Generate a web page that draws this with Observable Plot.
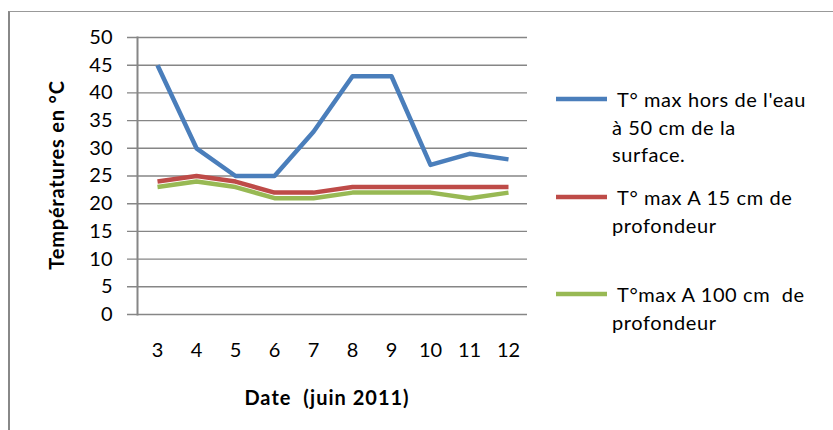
<!DOCTYPE html>
<html>
<head>
<meta charset="utf-8">
<script src="https://cdn.jsdelivr.net/npm/d3@7"></script>
<script src="https://cdn.jsdelivr.net/npm/@observablehq/plot@0.6"></script>
<style>
  html, body { margin: 0; padding: 0; background: #fff; }
  #wrap { position: relative; width: 833px; height: 430px; overflow: hidden; }
  #border { position: absolute; left: 8px; top: 11px; width: 900px; height: 500px;
            border-left: 2px solid #888; border-top: 1.5px solid #999; box-sizing: border-box; }
  #chart { position: absolute; left: 0; top: 0; }
</style>
</head>
<body>
<div id="wrap"><div id="border"></div><div id="chart"></div></div>
<script>
const dates = [3, 4, 5, 6, 7, 8, 9, 10, 11, 12];
const surface50 = [45, 30, 25, 25, 33, 43, 43, 27, 29, 28];
const depth15 = [24, 25, 24, 22, 22, 23, 23, 23, 23, 23];
const depth100 = [23, 24, 23, 21, 21, 22, 22, 22, 21, 22];
const seriesNames = [
  ["T° max hors de l'eau", "à 50 cm de la", "surface."],
  ["T° max A 15 cm de", "profondeur"],
  ["T°max A 100 cm  de", "profondeur"]
];
const colors = ["#4A7EBB", "#BE4B48", "#98B954"];
const yTicks = [0, 5, 10, 15, 20, 25, 30, 35, 40, 45, 50];

const seriesValues = [surface50, depth15, depth100];
const rows = [];
seriesValues.forEach((vals, s) => vals.forEach((v, i) => rows.push({date: dates[i], temp: v, s})));

const FONT = "Lato, 'Open Sans', sans-serif";

const chart = Plot.plot({
  width: 833,
  height: 430,
  marginLeft: 137,
  marginRight: 306,
  marginTop: 37,
  marginBottom: 116,
  style: {fontFamily: FONT, fontSize: "20px", color: "#000", background: "transparent", overflow: "visible"},
  x: {type: "point", domain: dates, padding: 0.5, label: null},
  y: {domain: [0, 50], ticks: yTicks, label: null},
  marks: [
    Plot.ruleY(yTicks, {stroke: "#868686", strokeWidth: 1.4, insetLeft: -10}),
    Plot.frame({anchor: "left", stroke: "#868686", strokeWidth: 2}),
    Plot.axisY({ticks: yTicks, tickSize: 0, tickPadding: 25, fill: "#000", fontSize: 20}),
    Plot.axisX({tickSize: 0, tickPadding: 28, fill: "#000", fontSize: 20}),
    Plot.line(rows, {x: "date", y: "temp", z: "s", stroke: d => colors[d.s], strokeWidth: 4.5, strokeLinejoin: "round", strokeLinecap: "butt"})
  ]
});
document.getElementById("chart").appendChild(chart);

const svg = d3.select(chart);
// axis titles
svg.append("text")
  .attr("transform", "translate(56,175) rotate(-90)")
  .attr("text-anchor", "middle").attr("dominant-baseline", "central")
  .attr("font-family", FONT).attr("font-weight", "bold").attr("font-size", 20)
  .attr("letter-spacing", 0.8)
  .text("Températures en °C");
svg.append("text")
  .attr("x", 327).attr("y", 397)
  .attr("text-anchor", "middle").attr("dominant-baseline", "central")
  .attr("font-family", FONT).attr("font-weight", "bold").attr("font-size", 20)
  .attr("letter-spacing", 1)
  .style("white-space", "pre")
  .text("Date  (juin 2011)");

// legend
const legendY = [99, 197, 294];
const lineH = 27.5;
seriesNames.forEach((lines, s) => {
  const g = svg.append("g");
  g.append("line").attr("x1", 556).attr("x2", 607).attr("y1", legendY[s]).attr("y2", legendY[s])
    .attr("stroke", colors[s]).attr("stroke-width", 4.5);
  lines.forEach((t, j) => {
    g.append("text")
      .attr("x", j === 0 ? 617 : 612).attr("y", legendY[s] + j * lineH)
      .attr("text-anchor", "start")
      .attr("dominant-baseline", "central")
      .attr("font-family", FONT).attr("font-size", 20)
      .attr("letter-spacing", 0.6)
      .style("white-space", "pre")
      .text(t);
  });
});
</script>
</body>
</html>
